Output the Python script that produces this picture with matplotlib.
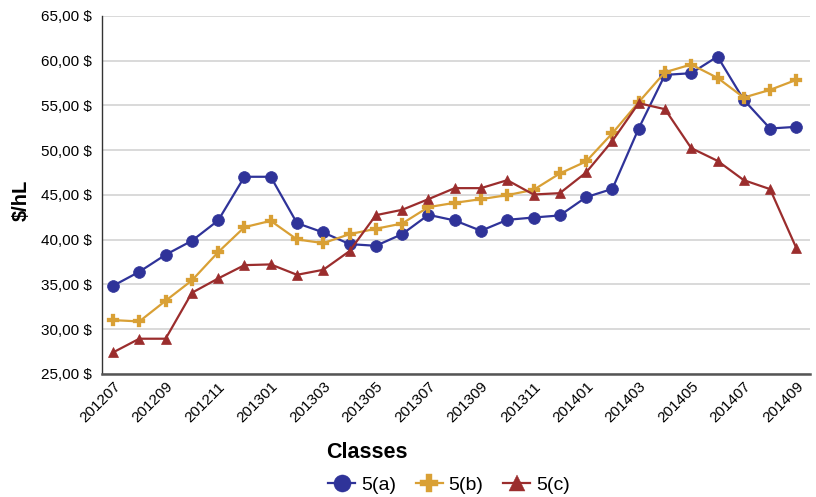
import matplotlib
matplotlib.use("Agg")
import matplotlib.pyplot as plt
from matplotlib.lines import Line2D

months = ["201207", "201208", "201209", "201210", "201211", "201212", "201301", "201302",
          "201303", "201304", "201305", "201306", "201307", "201308", "201309", "201310",
          "201311", "201312", "201401", "201402", "201403", "201404", "201405", "201406",
          "201407", "201408", "201409"]

series_a = [34.85, 36.42, 38.32, 39.88, 42.15, 47.03, 47.03, 41.85, 40.81, 39.51, 39.32, 40.62,
            42.78, 42.15, 41.00, 42.22, 42.48, 42.71, 44.75, 45.68, 52.42, 58.41, 58.60, 60.46,
            55.62, 52.42, 52.61]
series_b = [31.02, 30.87, 33.18, 35.45, 38.61, 41.40, 42.11, 40.03, 39.62, 40.62, 41.22, 41.81,
            43.64, 44.12, 44.53, 44.98, 45.57, 47.40, 48.74, 51.90, 55.36, 58.71, 59.57, 58.08,
            55.88, 56.74, 57.86]
series_c = [27.41, 28.94, 28.94, 34.07, 35.67, 37.16, 37.24, 36.08, 36.64, 38.73, 42.74, 43.34,
            44.53, 45.76, 45.76, 46.65, 45.05, 45.20, 47.51, 51.04, 55.25, 54.58, 50.23, 48.81,
            46.65, 45.65, 39.06]
labels = ["5(a)", "5(b)", "5(c)"]
yticks = [25, 30, 35, 40, 45, 50, 55, 60, 65]

plt.rcParams['font.family'] = ['Liberation Sans', 'DejaVu Sans']

colors = ['#2f3399', '#d9a035', '#9b2d2d']
markers = ['o', 'P', '^']
msizes = [8.5, 8.5, 7.5]

fig = plt.figure(figsize=(8.16, 4.97), dpi=100)
ax = fig.add_axes([0.125, 0.2475, 0.868, 0.7205])

x = list(range(len(months)))
for ys, c, m, ms, lab in zip([series_a, series_b, series_c], colors, markers, msizes, labels):
    ax.plot(x, ys, color=c, marker=m, markersize=ms, linewidth=1.6, label=lab,
            markeredgewidth=0.5 if m != 'P' else 0.2, markeredgecolor=c)

ax.set_ylim(25, 65)
ax.set_xlim(-0.42, 26.53)
ax.set_yticks(yticks)
ax.set_yticklabels([f"{v},00 $" for v in yticks], fontsize=11)
ax.set_xticks(x[::2])
ax.set_xticklabels(months[::2], rotation=45, ha='right', va='top', fontsize=11,
                   rotation_mode='anchor')
ax.tick_params(axis='both', length=0)
ax.tick_params(axis='y', pad=7)
ax.tick_params(axis='x', pad=4)
ax.grid(axis='y', color='#d9d9d9', linewidth=1.4)
ax.set_axisbelow(True)
for s in ['top', 'right']:
    ax.spines[s].set_visible(False)
ax.spines['left'].set_color('#333333')
ax.spines['left'].set_linewidth(1.0)
ax.spines['bottom'].set_color('#555555')
ax.spines['bottom'].set_linewidth(1.8)

fig.text(21 / 816, 1 - 200 / 497, "$/hL", rotation=90, fontsize=14.5, fontweight='bold',
         ha='center', va='center')
fig.text(326 / 816, 1 - 452 / 497, "Classes", fontsize=15.5, fontweight='bold',
         ha='left', va='center')

handles = [Line2D([0], [0], color=c, marker=m, markersize=ms * 1.45, linewidth=1.6,
                  markeredgecolor=c, markeredgewidth=0.3) for c, m, ms in zip(colors, markers, msizes)]
fig.legend(handles, labels, loc='center', bbox_to_anchor=(449 / 816, 1 - 485 / 497),
           ncol=3, frameon=False, fontsize=14, handlelength=1.4, handletextpad=0.3,
           columnspacing=1.0, borderpad=0)

fig.savefig("out.png", dpi=100)
